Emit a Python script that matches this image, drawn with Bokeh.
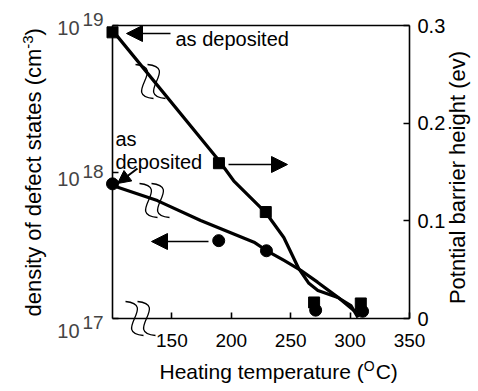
import math
from bokeh.plotting import figure
from bokeh.models import (Range1d, LinearAxis, LinearScale, FixedTicker, CustomJSTickFormatter,
                          Label, Arrow, NormalHead)
from bokeh.embed import file_html
from bokeh.resources import INLINE

# ---------------- data ----------------
# squares: potential barrier height (right axis, eV)
sq_temp = [100, 189.6, 229, 269.7, 309]
sq_barrier = [0.293, 0.159, 0.109, 0.0164, 0.0154]
# circles: density of defect states (left axis, cm^-3)
ci_temp = [100, 189.4, 229.6, 271, 310.5]
ci_density = [8.3e17, 3.4e17, 2.9e17, 1.14e17, 1.12e17]

# drawn guide curves
sq_curve_temp = [100, 189.4, 202, 229, 244.2, 256.8, 265.3, 272.9, 289.7, 300.7, 306.6]
sq_curve_barrier = [0.295, 0.162, 0.141, 0.1085, 0.083, 0.051, 0.036, 0.0287, 0.0215, 0.0133, 0.001]
ci_curve_temp = [100, 137.7, 174.2, 219.1, 229.6, 244.4, 258.5, 272.6, 289.5, 303.2, 309.1]
ci_curve_density = [8.09e17, 6.38e17, 4.67e17, 3.32e17, 2.91e17, 2.49e17, 2.13e17,
                    1.77e17, 1.40e17, 1.135e17, 1.117e17]

x_ticks = [150, 200, 250, 300, 350]
left_ticks = [1e17, 1e18, 1e19]
left_tick_exp = ["17", "18", "19"]
right_ticks = [0, 0.1, 0.2, 0.3]
right_tick_labels = ["0", "0.1", "0.2", "0.3"]

x_title = ["Heating temperature (", "O", "C)"]
left_title = ["density of defect states (cm", "-3", ")"]
right_title = "Potntial barrier height (ev)"
note_top = "as deposited"
note_left = ["as", "deposited"]

# ---------------- layout (canvas pixels) ----------------
W, H = 478, 391
AX_L, AX_R, AX_T, AX_B = 112, 409, 25, 318      # box drawn by the axes
X0, X1 = 100, 350
Y0, Y1 = 1e17, 1e19
R0, R1 = 0.0, 0.3
FONT = "Liberation Sans"

sx = (AX_R - AX_L) / (X1 - X0)
decade = (AX_B - AX_T) / math.log10(Y1 / Y0)
sr = (AX_B - AX_T) / (R1 - R0)


def xd(cx):
    return X0 + (cx - AX_L) / sx


def rd(cy):
    return R0 + (AX_B - cy) / sr


def ld(cy):
    return 10 ** (math.log10(Y0) + (AX_B - cy) / decade)


def at(cx, cy):
    """canvas pixel -> (temperature, right-axis value)"""
    return xd(cx), rd(cy)


# the frame spans the whole canvas; the axes sit at fixed data locations
p = figure(width=W, height=H, x_range=Range1d(xd(0), xd(W)), y_range=Range1d(ld(H), ld(0)),
           y_axis_type="log", output_backend="svg", toolbar_location=None,
           min_border_left=0, min_border_right=0, min_border_top=0, min_border_bottom=0)
p.extra_y_ranges = {"right": Range1d(rd(H), rd(0))}
p.extra_y_scales = {"right": LinearScale()}
p.outline_line_color = None
p.grid.visible = False
p.background_fill_color = "white"
p.border_fill_color = "white"

AXW = 1.6
# bottom axis
xa = p.xaxis[0]
xa.fixed_location = Y0
xa.bounds = (X0, X1)
xa.ticker = FixedTicker(ticks=x_ticks)
xa.major_tick_in = 6
xa.major_tick_out = 0
xa.minor_tick_line_color = None
xa.axis_line_width = AXW
xa.major_tick_line_width = AXW
xa.major_label_standoff = 15
xa.major_label_text_font = FONT
xa.major_label_text_font_size = "19px"
xa.major_label_text_color = "black"

# left log axis
ya = p.yaxis[0]
ya.fixed_location = X0
ya.bounds = (Y0, Y1)
ya.ticker = FixedTicker(ticks=left_ticks)
ya.formatter = CustomJSTickFormatter(code="return ''")
ya.major_tick_in = 6
ya.major_tick_out = 0
ya.minor_tick_line_color = None
ya.axis_line_width = AXW
ya.major_tick_line_width = AXW

# right linear axis
ra = LinearAxis(y_range_name="right", ticker=FixedTicker(ticks=right_ticks),
                major_label_overrides={t: s for t, s in zip(right_ticks, right_tick_labels)},
                bounds=(R0, R1), fixed_location=X1)
ra.major_tick_in = 6
ra.major_tick_out = 0
ra.minor_tick_line_color = None
ra.axis_line_width = AXW
ra.major_tick_line_width = AXW
ra.major_label_standoff = 8
ra.major_label_text_font = FONT
ra.major_label_text_font_size = "20px"
ra.major_label_text_color = "black"
p.add_layout(ra, "right")

# top frame line
ta = LinearAxis(ticker=FixedTicker(ticks=[]), bounds=(X0, X1), fixed_location=Y1)
ta.major_tick_line_color = None
ta.minor_tick_line_color = None
ta.major_label_text_font_size = "0px"
ta.axis_line_width = AXW
p.add_layout(ta, "above")

# ---------------- data marks ----------------
p.line(sq_curve_temp, sq_curve_barrier, y_range_name="right", line_color="black",
       line_width=3.2, line_join="round")
p.line(ci_curve_temp, ci_curve_density, line_color="black", line_width=3.2, line_join="round")
p.scatter(ci_temp, ci_density, marker="circle", size=12, color="black")
p.scatter(sq_temp, sq_barrier, marker="square", size=11, color="black", y_range_name="right")

# ---------------- axis-break squiggles ----------------
shape = [(-9, -17), (23, -14), (-23, 14), (9, 17)]
bz = {k: [] for k in ("x0", "y0", "cx0", "cy0", "cx1", "cy1", "x1", "y1")}
for (cx, cy) in [(150, 81), (154, 200), (140, 318)]:
    for off in (-6, 6):
        pts = [at(cx + off + dx, cy + dy) for dx, dy in shape]
        for key, pt in zip((("x0", "y0"), ("cx0", "cy0"), ("cx1", "cy1"), ("x1", "y1")), pts):
            bz[key[0]].append(pt[0])
            bz[key[1]].append(pt[1])
p.bezier(y_range_name="right", line_color="black", line_width=1.3, **bz)


# ---------------- arrows ----------------
def arrow(c0, c1, head, lw):
    x0, y0 = at(*c0)
    x1, y1 = at(*c1)
    p.add_layout(Arrow(end=NormalHead(size=head, fill_color="black", line_color="black", line_width=1),
                       x_start=x0, y_start=y0, x_end=x1, y_end=y1, y_range_name="right",
                       line_color="black", line_width=lw))


arrow((170, 33), (126, 33), 16, 1.5)
arrow((228, 164), (287, 164), 16, 1.5)
arrow((208, 241), (151, 241), 16, 1.5)
arrow((137, 168), (117, 183), 13, 2)


# ---------------- texts ----------------
def label(text, cx, cy, size, align="left", angle=0.0, baseline="middle"):
    x, y = at(cx, cy)
    p.add_layout(Label(x=x, y=y, y_range_name="right", text=text, text_font=FONT,
                       text_font_size=f"{size}px", text_align=align, text_baseline=baseline,
                       angle=angle, text_color="black"))


label(note_top, 175, 38, 20)
label(note_left[0], 115, 138, 20)
label(note_left[1], 115, 161, 20)

# left tick labels 10^n (mantissa slightly below each tick, exponent raised)
mantissa_dy = [-12, -7, -2]
for t, e, dy in zip(left_ticks, left_tick_exp, mantissa_dy):
    p.add_layout(Label(x=X0, y=t, x_offset=-33, y_offset=dy, text="10", text_align="right",
                       text_baseline="middle", text_font=FONT, text_font_size="20px"))
    p.add_layout(Label(x=X0, y=t, x_offset=-30, y_offset=dy + 8, text=e, text_align="left",
                       text_baseline="middle", text_font=FONT, text_font_size="19px"))

# x title with superscript
T = 21
w1 = 9.726 * T
wo = 0.778 * 14
x_start = 159
label(x_title[0], x_start, 371, T)
label(x_title[1], x_start + w1, 365, 14)
label(x_title[2], x_start + w1 + wo + 1, 371, T)

# left title (rotated), with superscript
L = 22
lw1 = 12.172 * L
lw2 = 0.889 * 15
y_start = 316
label(left_title[0], 33, y_start, L, angle=math.pi / 2)
label(left_title[1], 27, y_start - lw1, 15, angle=math.pi / 2)
label(left_title[2], 33, y_start - lw1 - lw2, L, angle=math.pi / 2)

# right title
label(right_title, 457, 177, 22, align="center", angle=math.pi / 2)

open("out.html", "w").write(file_html(p, INLINE))
